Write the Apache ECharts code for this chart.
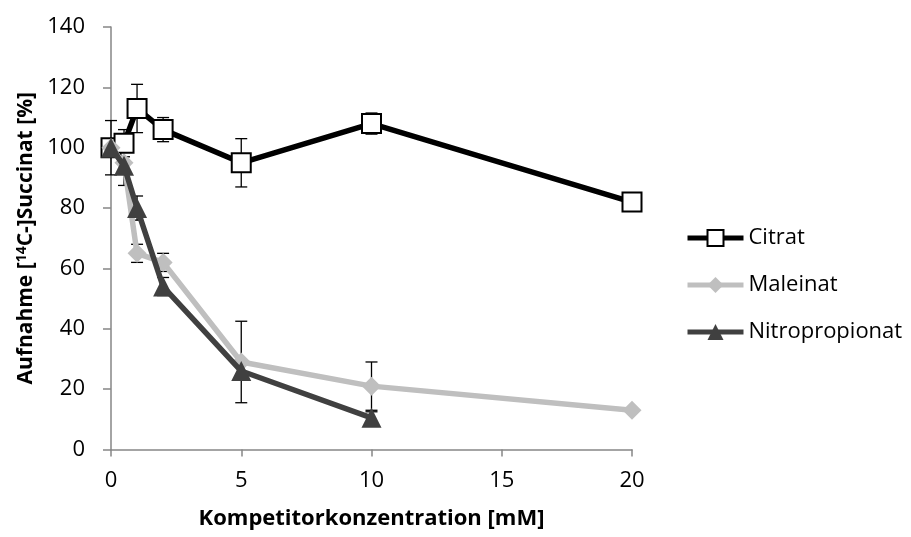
<!DOCTYPE html>
<html>
<head>
<meta charset="utf-8">
<script src="https://cdn.jsdelivr.net/npm/echarts@6/dist/echarts.min.js"></script>
<style>
  html, body { margin: 0; padding: 0; background: #fff; }
  #chart { width: 911px; height: 537px; }
</style>
</head>
<body>
<div id="chart"></div>
<script>
// Competitor concentrations [mM]
const citratX = [0, 0.5, 1, 2, 5, 10, 20];
const maleinatX = [0, 0.5, 1, 2, 5, 10, 20];
const nitroX = [0, 0.5, 1, 2, 5, 10];

// Uptake of [14C]-succinate [%]
const citratY = [100, 101.5, 113, 106, 95, 108, 82];
const maleinatY = [100, 95, 65, 62, 29, 21, 13];
const nitroY = [100, 94, 80, 54, 26, 10.5];

// Standard deviations
const citratErr = [9, 4.5, 8, 4, 8, 3.5, 0];
const maleinatErr = [0, 7.5, 3, 3, 13.5, 8, 0];
const nitroErr = [0, 0, 4, 3, 0, 2];

const xTicks = [0, 5, 10, 15, 20];
const yTicks = [0, 20, 40, 60, 80, 100, 120, 140];

const FONT = '"Open Sans"';

function pairs(xs, ys) { return xs.map((x, i) => [x, ys[i]]); }
function errData(xs, ys, es) {
  return xs.map((x, i) => [x, ys[i] - es[i], ys[i] + es[i]]).filter((d, i) => es[i] > 0);
}

// Vertical error bar with caps at both ends
function renderErr(params, api) {
  const x = api.value(0);
  const lo = api.coord([x, api.value(1)]);
  const hi = api.coord([x, api.value(2)]);
  const w = 6;
  const style = { stroke: '#000', lineWidth: 1.3 };
  return {
    type: 'group',
    children: [
      { type: 'line', shape: { x1: lo[0], y1: lo[1], x2: hi[0], y2: hi[1] }, style },
      { type: 'line', shape: { x1: hi[0] - w, y1: hi[1], x2: hi[0] + w, y2: hi[1] }, style },
      { type: 'line', shape: { x1: lo[0] - w, y1: lo[1], x2: lo[0] + w, y2: lo[1] }, style }
    ]
  };
}

const chart = echarts.init(document.getElementById('chart'), null, { renderer: 'canvas' });

chart.setOption({
  animation: false,
  backgroundColor: '#fff',
  textStyle: { fontFamily: FONT },
  grid: { left: 111, top: 27, right: 279, bottom: 87.5, containLabel: false },
  legend: {
    data: ['Citrat', 'Maleinat', 'Nitropropionat'],
    orient: 'vertical',
    left: 680,
    top: 221,
    padding: 5,
    itemWidth: 56,
    itemHeight: 20,
    itemGap: 23,
    lineStyle: { width: 5 },
    textStyle: { fontFamily: FONT, fontSize: 22, color: '#000', lineHeight: 24 }
  },
  xAxis: {
    type: 'value',
    min: 0, max: 20, interval: 5,
    name: 'Kompetitorkonzentration [mM]',
    nameLocation: 'middle',
    nameGap: 58,
    nameTextStyle: { fontFamily: FONT, fontSize: 22, fontWeight: 'bold', color: '#000' },
    axisLine: { onZero: false, lineStyle: { color: '#868686', width: 1.5 } },
    axisTick: { show: true, inside: false, length: 7, lineStyle: { color: '#868686', width: 1.5 } },
    axisLabel: { margin: 20, fontFamily: FONT, fontSize: 22, color: '#000',
      formatter: v => xTicks.includes(v) ? String(v) : '' },
    splitLine: { show: false }
  },
  yAxis: {
    type: 'value',
    min: 0, max: 140, interval: 20,
    name: '{b|Aufnahme [}{s|14}{b|C-]Succinat [%]}',
    nameLocation: 'middle',
    nameGap: 72,
    nameRotate: 90,
    nameTextStyle: {
      rich: {
        b: { fontFamily: FONT, fontSize: 21, fontWeight: 'bold', color: '#000' },
        s: { fontFamily: FONT, fontSize: 14, fontWeight: 'bold', color: '#000', verticalAlign: 'top', padding: [0, 0, 8, 0] }
      }
    },
    axisLine: { show: true, lineStyle: { color: '#868686', width: 1.5 } },
    axisTick: { show: true, inside: false, length: 8, lineStyle: { color: '#868686', width: 1.5 } },
    axisLabel: { margin: 26, fontFamily: FONT, fontSize: 22, color: '#000',
      formatter: v => yTicks.includes(v) ? String(v) : '' },
    splitLine: { show: false }
  },
  series: [
    {
      name: 'errCitrat', type: 'custom', renderItem: renderErr, z: 1,
      data: errData(citratX, citratY, citratErr), silent: true
    },
    {
      name: 'errMaleinat', type: 'custom', renderItem: renderErr, z: 1,
      data: errData(maleinatX, maleinatY, maleinatErr), silent: true
    },
    {
      name: 'errNitro', type: 'custom', renderItem: renderErr, z: 1,
      data: errData(nitroX, nitroY, nitroErr), silent: true
    },
    {
      name: 'Citrat', type: 'line', z: 2,
      data: pairs(citratX, citratY),
      symbol: 'rect', symbolSize: 19,
      lineStyle: { color: '#000', width: 5.5 },
      itemStyle: { color: '#fff', borderColor: '#000', borderWidth: 2 }
    },
    {
      name: 'Maleinat', type: 'line', z: 3,
      data: pairs(maleinatX, maleinatY),
      symbol: 'diamond', symbolSize: 19,
      lineStyle: { color: '#bfbfbf', width: 5.5 },
      itemStyle: { color: '#bfbfbf', borderColor: '#bfbfbf', borderWidth: 0 }
    },
    {
      name: 'Nitropropionat', type: 'line', z: 4,
      data: pairs(nitroX, nitroY),
      symbol: 'triangle', symbolSize: 20,
      lineStyle: { color: '#404040', width: 5.5 },
      itemStyle: { color: '#404040', borderColor: '#404040', borderWidth: 0 }
    }
  ]
});
</script>
</body>
</html>
